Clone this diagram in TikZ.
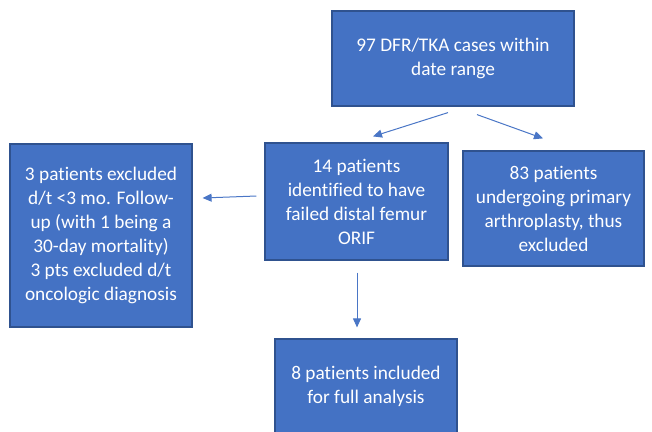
\documentclass[tikz,border=0pt]{standalone}
\usepackage{fontspec}
\setmainfont{Carlito}[RawFeature={-liga}]
\usetikzlibrary{arrows.meta}
\definecolor{boxfill}{HTML}{4472C4}
\definecolor{boxline}{HTML}{2F528F}
\definecolor{arrowc}{HTML}{4A76C6}
\begin{document}
\begin{tikzpicture}[x=1pt,y=-1pt,
  box/.style={draw=boxline,line width=1.2pt,fill=boxfill,text=white,align=center,
    inner sep=0pt,font=\fontsize{19.3}{24}\selectfont},
  conn/.style={draw=arrowc,line width=1pt,-{Triangle[length=9pt,width=8pt]}}]
\useasboundingbox (0,0) rectangle (652,431);
\node[box,minimum width=242pt,minimum height=95pt] (top) at (453,58.5)
  {97 DFR/TKA cases within\\date range};
\node[box,minimum width=183pt,minimum height=117pt] (mid) at (356.5,201.5)
  {14 patients\\identified to have\\failed distal femur\\ORIF};
\node[box,minimum width=181pt,minimum height=115pt] (right) at (553.5,208.5)
  {83 patients\\undergoing primary\\arthroplasty, thus\\excluded};
\node[box,minimum width=182pt,minimum height=183pt] (left) at (101,235.5)
  {3 patients excluded\\d/t <3 mo. Follow-\\up (with 1 being a\\30-day mortality)\\3 pts excluded d/t\\oncologic diagnosis};
\node[box,minimum width=182pt,minimum height=94pt] (bot) at (366,386)
  {8 patients included\\for full analysis};
\draw[conn] ([shift={(-5,6)}]top.south) -- ([shift={(16.5,-6)}]mid.north);
\draw[conn] ([shift={(24,8)}]top.south) -- ([shift={(-10.5,-12)}]right.north);
\draw[conn] ([shift={(-8,-5.5)}]mid.west) -- ([shift={(10,-37.5)}]left.east);
\draw[conn] ([shift={(0.5,12)}]mid.south) -- ([shift={(-9,-11)}]bot.north);
\end{tikzpicture}
\end{document}
